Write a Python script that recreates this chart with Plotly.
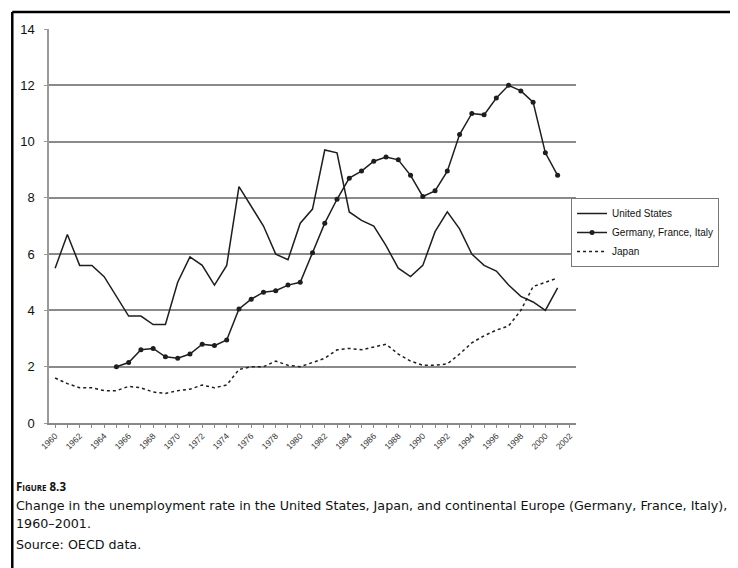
import plotly.graph_objects as go

years = list(range(1960, 2002))
us = [5.5, 6.7, 5.6, 5.6, 5.2, 4.5, 3.8, 3.8, 3.5, 3.5, 5.0, 5.9, 5.6, 4.9, 5.6,
      8.4, 7.7, 7.0, 6.0, 5.8, 7.1, 7.6, 9.7, 9.6, 7.5, 7.2, 7.0, 6.3, 5.5, 5.2,
      5.6, 6.8, 7.5, 6.9, 6.0, 5.6, 5.4, 4.9, 4.5, 4.3, 4.0, 4.8]
europe = [None, None, None, None, None, 2.0, 2.15, 2.6, 2.65, 2.35, 2.3, 2.45, 2.8,
          2.75, 2.95, 4.05, 4.4, 4.65, 4.7, 4.9, 5.0, 6.05, 7.1, 7.95, 8.7, 8.95,
          9.3, 9.45, 9.35, 8.8, 8.05, 8.25, 8.95, 10.25, 11.0, 10.95, 11.55, 12.0,
          11.8, 11.4, 9.6, 8.8]
japan = [1.6, 1.4, 1.25, 1.25, 1.15, 1.15, 1.3, 1.25, 1.1, 1.05, 1.15, 1.2, 1.35,
         1.25, 1.35, 1.9, 2.0, 2.0, 2.2, 2.05, 2.0, 2.15, 2.3, 2.6, 2.65, 2.6,
         2.7, 2.8, 2.45, 2.2, 2.05, 2.05, 2.1, 2.45, 2.85, 3.1, 3.3, 3.45, 4.0,
         4.85, 5.0, 5.15]
tick_years = list(range(1960, 2003, 2))
tick_labels = [str(y) for y in tick_years]
y_ticks = list(range(0, 15, 2))

OFF = 8  # page body margin
W, H = 738 - OFF, 568 - OFF
L, R, T, B = 45 - OFF, 576 - OFF, 29 - OFF, 423 - OFF


def px(x):
    return (x - OFF - L) / (R - L)


def py(y):
    return (B - (y - OFF)) / (B - T)


ink = "#1e1e1e"
fig = go.Figure()
fig.add_trace(go.Scatter(x=years, y=us, name="United States", mode="lines",
                         line=dict(color=ink, width=1.5)))
fig.add_trace(go.Scatter(x=years, y=europe, name="Germany, France, Italy",
                         mode="lines+markers", line=dict(color=ink, width=1.5),
                         marker=dict(color=ink, size=5, symbol="circle")))
fig.add_trace(go.Scatter(x=years, y=japan, name="Japan", mode="lines",
                         line=dict(color=ink, width=1.5, dash="dot")))

fig.update_layout(
    width=W, height=H,
    margin=dict(l=L, r=W - R, t=T, b=H - B),
    paper_bgcolor="white", plot_bgcolor="white",
    font=dict(family="Liberation Sans, Arial", color="#111"),
    showlegend=True,
    legend=dict(x=px(571), y=py(198), xanchor="left", yanchor="top",
                bordercolor="#777", borderwidth=1, bgcolor="white",
                font=dict(size=10, family="Liberation Sans, Arial", color="#111"),
                tracegroupgap=0, itemwidth=30),
    xaxis=dict(range=[1959.5, 2002.5], tickmode="array", tickvals=tick_years,
               ticktext=tick_labels, tickangle=-45, showgrid=False,
               tickfont=dict(size=8.5, color="#333"), showline=True,
               linecolor="#888", linewidth=1.5, ticks="outside", ticklen=3,
               tickcolor="#888", zeroline=False,
               minor=dict(dtick=1, ticks="outside", ticklen=3, tickcolor="#888")),
    yaxis=dict(range=[0, 14], tickvals=y_ticks, showgrid=True,
               gridcolor="#8a8a8a", gridwidth=1.5, zeroline=False,
               showline=True, linecolor="#999", linewidth=1.5,
               ticks="outside", ticklen=3, tickcolor="#999",
               ticklabelstandoff=7,
               tickfont=dict(size=13, color="#111")),
)

# outer frame (top and left edges visible)
fig.add_shape(type="line", xref="paper", yref="paper", x0=px(8), x1=px(745),
              y0=py(12), y1=py(12), line=dict(color="black", width=2.5))
fig.add_shape(type="line", xref="paper", yref="paper", x0=px(8), x1=px(8),
              y0=py(12), y1=py(575), line=dict(color="black", width=2.5))

cap_font = dict(family="DejaVu Sans", size=12.7, color="#111")
fig.add_annotation(xref="paper", yref="paper", x=px(10), y=py(486),
                   xanchor="left", yanchor="middle", showarrow=False,
                   text="<b>Figure 8.3</b>",
                   font=dict(family="Open Sans", size=11.5, color="#111",
                             variant="small-caps"))
fig.add_annotation(xref="paper", yref="paper", x=px(10), y=py(506),
                   xanchor="left", yanchor="middle", showarrow=False,
                   text="Change in the unemployment rate in the United States, Japan, and continental Europe (Germany, France, Italy),",
                   font=cap_font)
fig.add_annotation(xref="paper", yref="paper", x=px(10), y=py(523),
                   xanchor="left", yanchor="middle", showarrow=False,
                   text="1960–2001.", font=cap_font)
fig.add_annotation(xref="paper", yref="paper", x=px(10), y=py(544),
                   xanchor="left", yanchor="middle", showarrow=False,
                   text="Source: OECD data.", font=cap_font)

fig.write_html("out.html")
